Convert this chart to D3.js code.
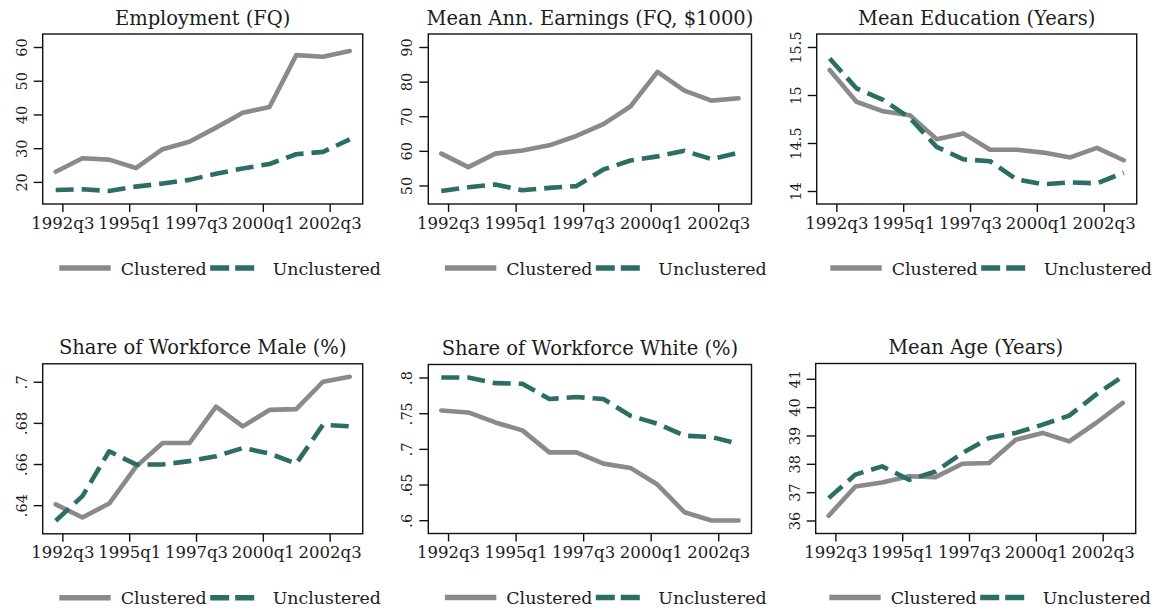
<!DOCTYPE html>
<html>
<head>
<meta charset="utf-8">
<script src="https://cdn.jsdelivr.net/npm/d3@7"></script>
<style>
  html, body { margin: 0; padding: 0; background: #fff; }
  svg { display: block; }
  text { font-family: "DejaVu Serif", "Liberation Serif", serif; fill: #1c1c1c; }
</style>
</head>
<body>
<svg id="chart" width="1167" height="614"></svg>
<script>
// Annual observations, second quarter of each year
const periods = ["1992q2","1993q2","1994q2","1995q2","1996q2","1997q2",
                 "1998q2","1999q2","2000q2","2001q2","2002q2","2003q2"];
const xTickLabels = ["1992q3","1995q1","1997q3","2000q1","2002q3"];
const seriesNames = ["Clustered","Unclustered"];

const panelTitles = [
  "Employment (FQ)",
  "Mean Ann. Earnings (FQ, $1000)",
  "Mean Education (Years)",
  "Share of Workforce Male (%)",
  "Share of Workforce White (%)",
  "Mean Age (Years)"
];

const employmentClustered   = [23.0, 27.0, 26.6, 24.1, 29.7, 31.9, 36.1, 40.5, 42.2, 57.6, 57.1, 58.8];
const employmentUnclustered = [17.6, 17.8, 17.3, 18.6, 19.5, 20.6, 22.4, 24.0, 25.3, 28.2, 28.9, 32.6];

const earningsClustered   = [59.2, 55.3, 59.2, 60.1, 61.6, 64.3, 67.7, 72.8, 82.8, 77.4, 74.5, 75.2];
const earningsUnclustered = [48.4, 49.5, 50.3, 48.6, 49.3, 49.8, 54.6, 57.2, 58.4, 60.0, 57.6, 59.5];

const educationClustered   = [15.26, 14.93, 14.83, 14.79, 14.54, 14.60, 14.43, 14.43, 14.40, 14.35, 14.45, 14.32];
const educationUnclustered = [15.38, 15.07, 14.95, 14.76, 14.46, 14.33, 14.31, 14.12, 14.07, 14.09, 14.08, 14.19];

const maleClustered   = [0.6404, 0.6340, 0.6408, 0.6586, 0.6702, 0.6702, 0.6879, 0.6783, 0.6863, 0.6867, 0.7000, 0.7024];
const maleUnclustered = [0.6324, 0.6444, 0.6662, 0.6598, 0.6598, 0.6614, 0.6638, 0.6678, 0.6651, 0.6602, 0.6791, 0.6783];

const whiteClustered   = [0.7538, 0.7510, 0.7370, 0.7259, 0.6951, 0.6951, 0.6793, 0.6733, 0.6500, 0.6112, 0.5996, 0.5996];
const whiteUnclustered = [0.8000, 0.8000, 0.7921, 0.7912, 0.7698, 0.7726, 0.7698, 0.7464, 0.7352, 0.7185, 0.7166, 0.7073];

const ageClustered   = [36.17, 37.20, 37.34, 37.56, 37.53, 38.00, 38.03, 38.85, 39.09, 38.79, 39.44, 40.15];
const ageUnclustered = [36.79, 37.62, 37.91, 37.44, 37.73, 38.38, 38.91, 39.09, 39.38, 39.70, 40.44, 41.08];

const yTicksEmployment = [20, 30, 40, 50, 60];
const yTicksEarnings   = [50, 60, 70, 80, 90];
const yTicksEducation  = [14, 14.5, 15, 15.5];
const yTicksMale       = [0.64, 0.66, 0.68, 0.70];
const yTicksWhite      = [0.60, 0.65, 0.70, 0.75, 0.80];
const yTicksAge        = [36, 37, 38, 39, 40, 41];

// Panel definitions (data) and their plot boxes (layout)
const panels = [
  { title: panelTitles[0], a: employmentClustered, b: employmentUnclustered, ticks: yTicksEmployment },
  { title: panelTitles[1], a: earningsClustered,   b: earningsUnclustered,   ticks: yTicksEarnings },
  { title: panelTitles[2], a: educationClustered,  b: educationUnclustered,  ticks: yTicksEducation },
  { title: panelTitles[3], a: maleClustered,       b: maleUnclustered,       ticks: yTicksMale },
  { title: panelTitles[4], a: whiteClustered,      b: whiteUnclustered,      ticks: yTicksWhite },
  { title: panelTitles[5], a: ageClustered,        b: ageUnclustered,        ticks: yTicksAge }
];
const boxes = [
  { x0: 42.7,  x1: 362.7,  y0: 34,    y1: 204,   lx: 0 },
  { x0: 428.3, x1: 751.5,  y0: 34,    y1: 204,   lx: 0 },
  { x0: 816.7, x1: 1136.7, y0: 34,    y1: 204,   lx: -3 },
  { x0: 42.7,  x1: 362.7,  y0: 363.8, y1: 533.8, lx: 0 },
  { x0: 428.3, x1: 751.5,  y0: 364.5, y1: 533.5, lx: 0 },
  { x0: 815.7, x1: 1135.7, y0: 363.5, y1: 533.5, lx: -3 }
];

const GREY = "#8a8a8a";
const TEAL = "#2c6e64";
const LINE_W = 4.6;
const DASH = "18,8";
const PAD = 13; // inner plot-region margin

// "1992q3" -> 1992.5 (fractional year)
const toTime = s => { const [y, q] = s.split("q").map(Number); return y + (q - 1) / 4; };
// Stata-style numbers: drop the leading zero
const fmt = v => { const s = String(+v.toFixed(4)); return s.startsWith("0.") ? s.slice(1) : s; };

const svg = d3.select("#chart");
const times = periods.map(toTime);

panels.forEach((p, i) => {
  const bx = boxes[i];
  const g = svg.append("g");

  const xDom = d3.extent(times.concat(xTickLabels.map(toTime)));
  const x = d3.scaleLinear().domain(xDom).range([bx.x0 + PAD, bx.x1 - PAD]);
  const yDom = d3.extent(p.a.concat(p.b, p.ticks));
  const y = d3.scaleLinear().domain(yDom).range([bx.y1 - PAD, bx.y0 + PAD]);

  // frame
  g.append("rect")
    .attr("x", bx.x0).attr("y", bx.y0)
    .attr("width", bx.x1 - bx.x0).attr("height", bx.y1 - bx.y0)
    .attr("fill", "none").attr("stroke", "#111").attr("stroke-width", 1.4);

  // x axis
  const xAxis = d3.axisBottom(x)
    .tickValues(xTickLabels.map(toTime))
    .tickFormat((d, k) => xTickLabels[k])
    .tickSize(8).tickPadding(4);
  const gx = g.append("g").attr("transform", `translate(0,${bx.y1})`).call(xAxis);
  gx.select(".domain").remove();
  gx.selectAll(".tick line").attr("stroke", "#111").attr("stroke-width", 1.4);
  gx.selectAll(".tick text")
    .attr("y", 24.5).attr("dy", null)
    .style("font-family", "DejaVu Serif").style("font-size", "16.5px").attr("fill", "#1c1c1c");

  // y axis (labels rotated, reading upward)
  const yAxis = d3.axisLeft(y).tickValues(p.ticks).tickFormat(fmt).tickSize(9);
  const gy = g.append("g").attr("transform", `translate(${bx.x0},0)`).call(yAxis);
  gy.select(".domain").remove();
  gy.selectAll(".tick line").attr("stroke", "#111").attr("stroke-width", 1.4);
  gy.selectAll(".tick text")
    .attr("x", null).attr("dy", null)
    .attr("transform", "translate(-16,0) rotate(-90)")
    .attr("text-anchor", "middle")
    .style("font-family", "DejaVu Serif").style("font-size", "14.5px").attr("fill", "#1c1c1c");

  // title
  g.append("text")
    .attr("x", (bx.x0 + bx.x1) / 2).attr("y", bx.y0 - 9.5)
    .attr("text-anchor", "middle")
    .style("font-size", "19.5px")
    .text(p.title);

  // series
  const line = d3.line().x((d, k) => x(times[k])).y(d => y(d)).curve(d3.curveLinear);
  g.append("path").datum(p.a)
    .attr("d", line).attr("fill", "none")
    .attr("stroke", GREY).attr("stroke-width", LINE_W)
    .attr("stroke-linejoin", "round").attr("stroke-linecap", "round");
  g.append("path").datum(p.b)
    .attr("d", line).attr("fill", "none")
    .attr("stroke", TEAL).attr("stroke-width", LINE_W)
    .attr("stroke-dasharray", DASH)
    .attr("stroke-linejoin", "round").attr("stroke-linecap", "butt");

  // legend
  const ly = bx.y1 + 64;
  const lg = g.append("g").attr("transform", `translate(${bx.x0 + bx.lx},${ly})`);
  lg.append("line").attr("x1", 16.6).attr("x2", 68).attr("y1", 0).attr("y2", 0)
    .attr("stroke", GREY).attr("stroke-width", 5.5);
  lg.append("text").attr("x", 78).attr("y", 6.5).style("font-size", "17.4px").text(seriesNames[0]);
  lg.append("line").attr("x1", 167.5).attr("x2", 212).attr("y1", 0).attr("y2", 0)
    .attr("stroke", TEAL).attr("stroke-width", 5.5).attr("stroke-dasharray", "19,6");
  lg.append("text").attr("x", 230).attr("y", 6.5).style("font-size", "17.4px").text(seriesNames[1]);
});
</script>
</body>
</html>
